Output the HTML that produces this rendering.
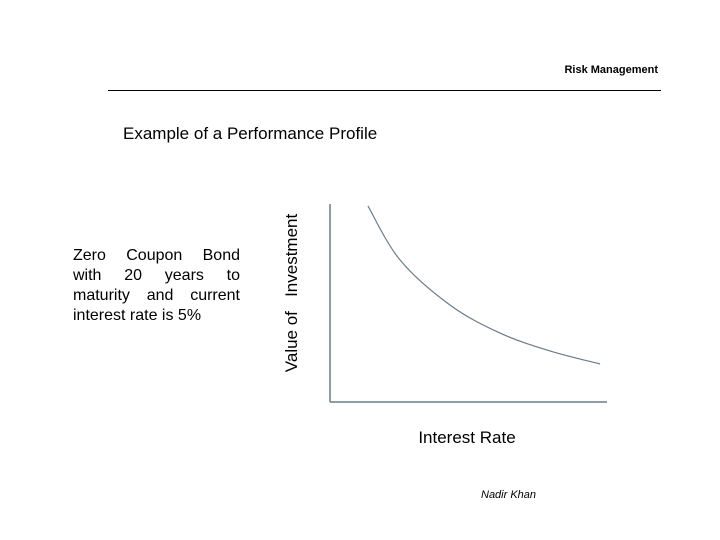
<!DOCTYPE html>
<html><head><meta charset="utf-8"><style>
body{margin:0;width:720px;height:540px;background:#fff;position:relative;overflow:hidden;font-family:"Liberation Sans",sans-serif;}
div.t{position:absolute;white-space:nowrap;color:#000}
</style></head><body>
<div class="t" style="right:62px;top:64px;font-size:11px;font-weight:bold;">Risk Management</div>
<div style="position:absolute;left:108px;top:90px;width:553px;height:1px;background:#000"></div>
<div class="t" style="left:123px;top:124px;font-size:17px;">Example of a Performance Profile</div>
<div style="position:absolute;left:73px;top:246px;width:167px;font-size:16px;line-height:20px;text-align:justify;text-align-last:left;">Zero&nbsp; Coupon&nbsp; Bond with&nbsp; 20&nbsp; years&nbsp; to maturity and current interest rate is 5%</div>
<svg width="720" height="540" style="position:absolute;left:0;top:0">
<line x1="330" y1="204" x2="330" y2="402" stroke="#6b7b8c" stroke-width="1.5"/>
<line x1="330" y1="402" x2="607" y2="402" stroke="#6b7b8c" stroke-width="1.5"/>
<text x="297" y="293" transform="rotate(-90 297 293)" text-anchor="middle" font-size="17" font-family="Liberation Sans">Value of&#160;&#160; Investment</text>
<text x="467" y="443" text-anchor="middle" font-size="17" font-family="Liberation Sans">Interest Rate</text>
<path id="curve" fill="none" stroke="#6b7b8c" stroke-width="1.2"/>
</svg>
<div class="t" style="left:481px;top:489px;font-size:11px;font-style:italic;">Nadir Khan</div>
<script>
const rates=[1.37,2.53,4.33,6.14,7.94,9.75];
const values=[99,71.7,49,34.8,25.8,19.2];
const xs=r=>330+r*27.7, ys=v=>402-v*1.98;
const p=rates.map((r,i)=>[xs(r),ys(values[i])]);
let d='M'+p[0][0]+','+p[0][1];
for(let i=0;i<p.length-1;i++){const a=p[i-1]||p[i],b=p[i],c=p[i+1],e=p[i+2]||c;
d+=` C${b[0]+(c[0]-a[0])/6},${b[1]+(c[1]-a[1])/6} ${c[0]-(e[0]-b[0])/6},${c[1]-(e[1]-b[1])/6} ${c[0]},${c[1]}`;}
const el=document.getElementById('curve');el.setAttribute('d',d);


</script>
</body></html>
